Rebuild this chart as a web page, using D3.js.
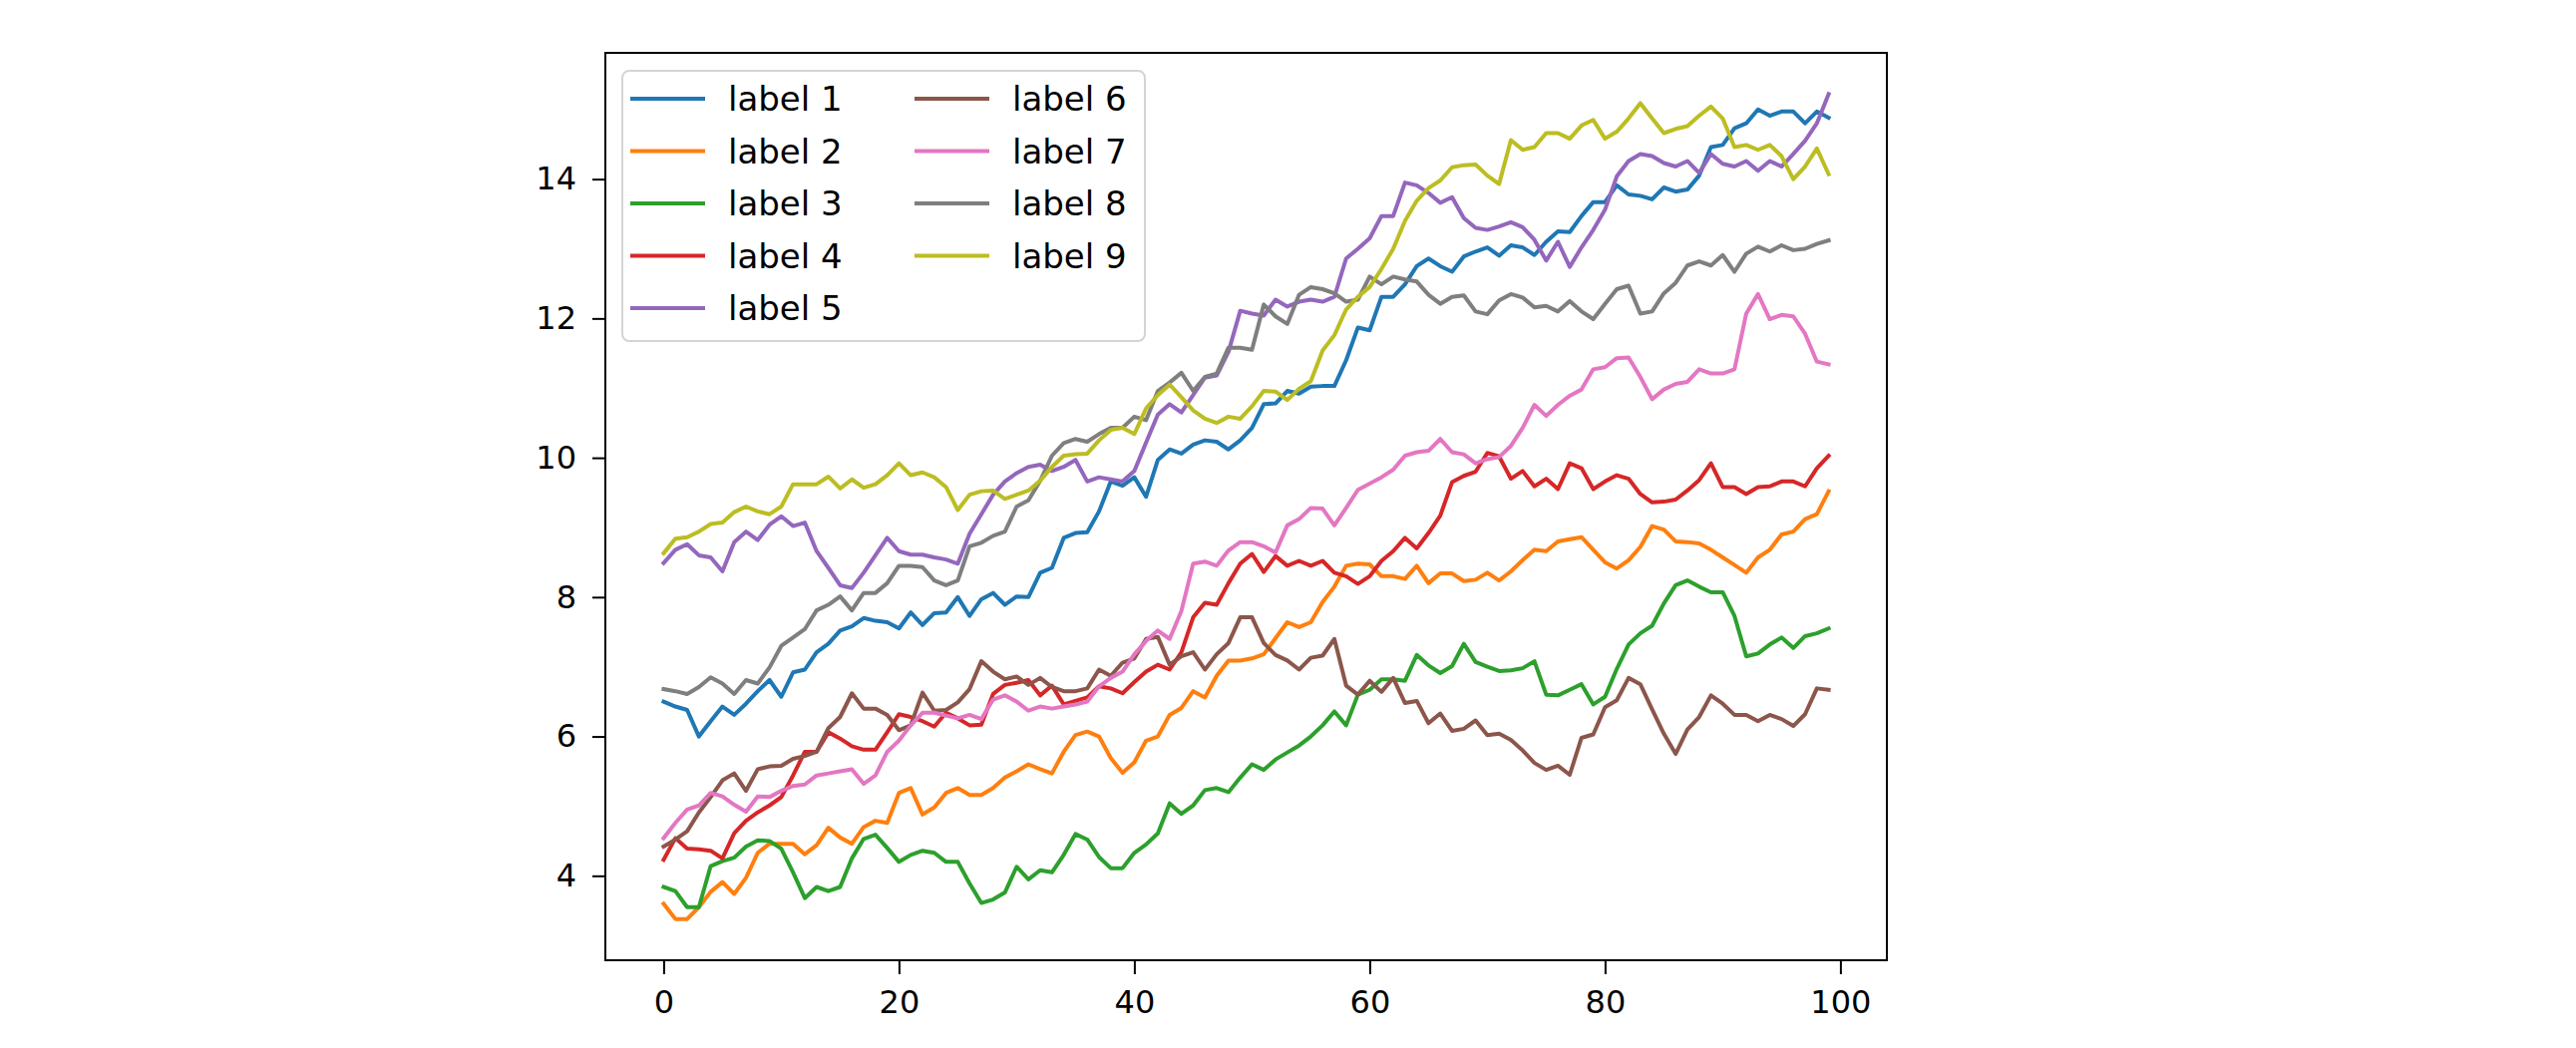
<!DOCTYPE html>
<html>
<head>
<meta charset="utf-8">
<script src="https://cdn.jsdelivr.net/npm/d3@7"></script>
<style>
  html, body { margin: 0; padding: 0; background: #fff; }
  svg { display: block; }
  text { font-family: "DejaVu Sans", sans-serif; fill: #000; }
</style>
</head>
<body>
<svg id="chart" width="2583" height="1051"></svg>
<script>
const labels = ["label 1","label 2","label 3","label 4","label 5","label 6","label 7","label 8","label 9"];
const colors = ["#1f77b4","#ff7f0e","#2ca02c","#d62728","#9467bd","#8c564b","#e377c2","#7f7f7f","#bcbd22"];
const xTicks = [0, 20, 40, 60, 80, 100];
const yTicks = [4, 6, 8, 10, 12, 14];

const s1 = [6.50,6.43,6.38,6.00,6.22,6.43,6.31,6.47,6.65,6.81,6.57,6.92,6.96,7.21,7.33,7.52,7.58,7.70,
  7.66,7.64,7.55,7.78,7.60,7.77,7.78,8.00,7.73,7.97,8.06,7.89,8.01,8.00,8.35,8.42,8.85,8.92,
  8.93,9.23,9.66,9.60,9.72,9.44,9.97,10.12,10.06,10.19,10.25,10.23,10.12,10.25,10.43,10.77,
  10.78,10.96,10.92,11.02,11.03,11.03,11.40,11.87,11.83,12.31,12.31,12.49,12.75,12.86,12.75,12.67,12.89,12.96,13.02,12.90,
  13.05,13.02,12.91,13.10,13.25,13.24,13.47,13.67,13.67,13.91,13.78,13.76,13.71,13.88,13.82,13.85,14.05,
  14.46,14.49,14.73,14.80,15.00,14.91,14.97,14.97,14.80,14.97,14.88];
const s2 = [3.60,3.38,3.38,3.55,3.77,3.91,3.74,3.97,4.33,4.46,4.46,4.46,4.31,4.44,4.69,4.55,4.46,4.70,
  4.79,4.76,5.19,5.26,4.88,4.98,5.19,5.26,5.16,5.16,5.26,5.41,5.50,5.60,5.53,5.47,5.78,6.02,
  6.07,6.00,5.69,5.48,5.63,5.94,6.00,6.31,6.41,6.65,6.56,6.87,7.09,7.09,7.12,7.18,
  7.41,7.64,7.57,7.64,7.93,8.15,8.45,8.48,8.47,8.30,8.30,8.26,8.45,8.20,8.34,8.34,8.23,8.25,8.35,8.24,
  8.37,8.53,8.68,8.66,8.80,8.83,8.86,8.68,8.50,8.41,8.53,8.72,9.02,8.97,8.80,8.79,8.77,
  8.68,8.57,8.46,8.35,8.57,8.68,8.90,8.94,9.12,9.19,9.52];
const s3 = [3.84,3.78,3.55,3.55,4.14,4.21,4.26,4.42,4.51,4.50,4.39,4.05,3.68,3.84,3.78,3.84,4.25,4.53,
  4.59,4.40,4.20,4.30,4.36,4.33,4.20,4.20,3.89,3.61,3.66,3.76,4.13,3.95,4.08,4.05,4.30,4.60,
  4.52,4.27,4.11,4.11,4.33,4.45,4.61,5.04,4.89,5.01,5.23,5.26,5.20,5.41,5.60,5.52,
  5.67,5.77,5.87,6.00,6.16,6.36,6.16,6.60,6.67,6.82,6.82,6.80,7.17,7.02,6.91,7.01,7.33,7.07,7.00,6.94,
  6.95,6.98,7.08,6.60,6.59,6.67,6.75,6.46,6.57,6.97,7.32,7.48,7.59,7.91,8.17,8.24,8.15,
  8.07,8.07,7.73,7.15,7.19,7.32,7.42,7.27,7.44,7.48,7.55];
const s4 = [4.23,4.54,4.39,4.38,4.36,4.25,4.61,4.79,4.91,5.01,5.13,5.44,5.78,5.78,6.06,5.97,5.86,5.81,
  5.81,6.06,6.32,6.28,6.22,6.14,6.34,6.26,6.16,6.17,6.61,6.74,6.77,6.81,6.59,6.73,6.46,6.51,
  6.56,6.72,6.69,6.62,6.78,6.93,7.03,6.96,7.21,7.71,7.92,7.89,8.20,8.48,8.62,8.36,
  8.59,8.45,8.52,8.45,8.52,8.35,8.30,8.19,8.30,8.52,8.66,8.85,8.70,8.92,9.17,9.65,9.74,9.80,10.07,10.02,
  9.70,9.81,9.59,9.70,9.55,9.92,9.85,9.55,9.66,9.75,9.70,9.48,9.36,9.37,9.40,9.53,9.68,
  9.92,9.58,9.58,9.48,9.58,9.59,9.66,9.66,9.59,9.85,10.03];
const s5 = [8.49,8.68,8.76,8.60,8.57,8.37,8.79,8.94,8.82,9.04,9.16,9.02,9.07,8.66,8.42,8.17,8.13,8.35,
  8.60,8.85,8.66,8.61,8.61,8.57,8.54,8.48,8.91,9.19,9.47,9.66,9.78,9.87,9.90,9.81,9.87,9.97,
  9.66,9.72,9.69,9.66,9.81,10.22,10.62,10.77,10.65,10.90,11.15,11.18,11.52,12.11,12.07,12.04,
  12.27,12.17,12.24,12.27,12.24,12.31,12.86,13.00,13.15,13.47,13.47,13.95,13.91,13.80,13.66,13.74,13.44,13.30,13.27,13.32,
  13.38,13.31,13.13,12.83,13.10,12.74,13.02,13.27,13.56,14.04,14.26,14.36,14.33,14.23,14.18,14.26,14.09,
  14.36,14.22,14.18,14.26,14.12,14.26,14.18,14.36,14.55,14.80,15.22];
const s6 = [4.42,4.52,4.64,4.91,5.13,5.37,5.47,5.22,5.53,5.57,5.58,5.68,5.72,5.78,6.12,6.28,6.62,6.40,
  6.40,6.31,6.09,6.16,6.63,6.37,6.38,6.49,6.68,7.08,6.93,6.82,6.86,6.74,6.84,6.71,6.65,6.65,
  6.69,6.96,6.87,7.06,7.12,7.40,7.43,7.03,7.15,7.21,6.96,7.18,7.34,7.71,7.71,7.34,
  7.17,7.09,6.96,7.13,7.16,7.40,6.73,6.60,6.80,6.64,6.84,6.48,6.51,6.19,6.33,6.08,6.11,6.23,6.02,6.04,
  5.95,5.80,5.62,5.52,5.58,5.45,5.98,6.03,6.42,6.52,6.84,6.75,6.39,6.04,5.75,6.10,6.28,
  6.59,6.47,6.31,6.31,6.22,6.31,6.25,6.15,6.32,6.69,6.67];
const s7 = [4.54,4.76,4.95,5.01,5.19,5.14,5.02,4.92,5.14,5.13,5.22,5.29,5.31,5.44,5.47,5.50,5.53,5.32,
  5.44,5.78,5.94,6.16,6.34,6.34,6.30,6.26,6.31,6.25,6.53,6.59,6.50,6.37,6.43,6.40,6.43,6.46,
  6.50,6.72,6.84,6.93,7.18,7.37,7.52,7.40,7.80,8.48,8.51,8.45,8.67,8.79,8.79,8.73,
  8.64,9.03,9.12,9.28,9.27,9.03,9.28,9.54,9.63,9.72,9.83,10.03,10.08,10.10,10.27,10.08,10.05,9.92,9.98,10.01,
  10.17,10.43,10.76,10.60,10.76,10.89,10.98,11.27,11.30,11.43,11.44,11.16,10.84,10.98,11.06,11.09,11.27,
  11.21,11.21,11.27,12.07,12.35,11.99,12.05,12.03,11.78,11.38,11.34];
const s8 = [6.68,6.65,6.61,6.71,6.85,6.76,6.61,6.81,6.76,6.99,7.30,7.42,7.54,7.81,7.89,8.01,7.81,8.06,
  8.06,8.20,8.45,8.45,8.43,8.24,8.17,8.24,8.73,8.78,8.88,8.94,9.30,9.39,9.67,10.03,10.21,10.27,
  10.23,10.34,10.43,10.43,10.59,10.54,10.96,11.08,11.22,10.96,11.16,11.21,11.58,11.58,11.55,12.20,
  12.03,11.92,12.34,12.45,12.42,12.36,12.24,12.27,12.60,12.49,12.60,12.56,12.53,12.34,12.21,12.31,12.33,12.10,12.06,12.26,
  12.35,12.30,12.16,12.18,12.10,12.25,12.10,11.99,12.21,12.42,12.47,12.07,12.10,12.36,12.51,12.76,12.82,
  12.76,12.91,12.67,12.93,13.03,12.96,13.05,12.98,13.00,13.07,13.12];
const s9 = [8.63,8.84,8.86,8.94,9.05,9.07,9.22,9.30,9.23,9.19,9.30,9.62,9.62,9.62,9.73,9.56,9.69,9.57,
  9.62,9.75,9.92,9.75,9.79,9.72,9.58,9.25,9.47,9.52,9.53,9.41,9.47,9.53,9.67,9.87,10.03,10.05,
  10.06,10.25,10.40,10.43,10.34,10.71,10.90,11.05,10.87,10.68,10.56,10.50,10.59,10.56,10.74,10.96,
  10.95,10.83,10.99,11.10,11.54,11.76,12.13,12.31,12.45,12.71,13.00,13.40,13.69,13.87,13.98,14.17,14.20,14.21,14.05,13.93,
  14.56,14.42,14.46,14.66,14.66,14.58,14.77,14.85,14.58,14.68,14.87,15.09,14.87,14.66,14.72,14.76,14.91,
  15.04,14.87,14.46,14.49,14.42,14.49,14.33,14.00,14.18,14.44,14.07];

const series = [s1, s2, s3, s4, s5, s6, s7, s8, s9];

const svg = d3.select("#chart");
svg.append("rect").attr("width", 2583).attr("height", 1051).attr("fill", "#fff");

const plot = { left: 607, top: 53, right: 1892, bottom: 963 };

const n = s1.length;
const xPad = (n - 1) * 0.05;
const x = d3.scaleLinear().domain([-xPad, n - 1 + xPad]).range([plot.left, plot.right]);
const all = series.flat();
const [ymin, ymax] = d3.extent(all);
const yPad = (ymax - ymin) * 0.05;
const y = d3.scaleLinear().domain([ymin - yPad, ymax + yPad]).range([plot.bottom, plot.top]);

const line = d3.line().x((d, i) => x(i)).y(d => y(d));

const g = svg.append("g");
series.forEach((s, k) => {
  g.append("path")
    .datum(s)
    .attr("d", line)
    .attr("fill", "none")
    .attr("stroke", colors[k])
    .attr("stroke-width", 4)
    .attr("stroke-linejoin", "round")
    .attr("stroke-linecap", "square");
});

// axes
const xAxis = svg.append("g")
  .attr("transform", `translate(0,${plot.bottom})`)
  .call(d3.axisBottom(x).tickValues(xTicks).tickSize(14).tickPadding(16).tickFormat(d3.format("d")));
const yAxis = svg.append("g")
  .attr("transform", `translate(${plot.left},0)`)
  .call(d3.axisLeft(y).tickValues(yTicks).tickSize(13).tickPadding(16).tickFormat(d3.format("d")));
[xAxis, yAxis].forEach(a => {
  a.select(".domain").remove();
  a.selectAll(".tick line").attr("stroke", "#000").attr("stroke-width", 2);
  a.selectAll(".tick text").attr("font-size", 32).attr("font-family", "DejaVu Sans").attr("fill", "#1a1a1a");
});

// spines
svg.append("rect")
  .attr("x", plot.left).attr("y", plot.top)
  .attr("width", plot.right - plot.left).attr("height", plot.bottom - plot.top)
  .attr("fill", "none").attr("stroke", "#000").attr("stroke-width", 2);

// legend
const leg = svg.append("g");
leg.append("rect")
  .attr("x", 624).attr("y", 71).attr("width", 524).attr("height", 271)
  .attr("rx", 7).attr("ry", 7)
  .attr("fill", "#fff").attr("fill-opacity", 0.8)
  .attr("stroke", "#d4d4d4").attr("stroke-width", 2);
const rowsPerCol = 5;
labels.forEach((lab, k) => {
  const col = Math.floor(k / rowsPerCol);
  const row = k % rowsPerCol;
  const x0 = 632 + col * 285;
  const yc = 99 + row * 52.5;
  leg.append("line")
    .attr("x1", x0).attr("x2", x0 + 75)
    .attr("y1", yc).attr("y2", yc)
    .attr("stroke", colors[k]).attr("stroke-width", 4);
  leg.append("text")
    .attr("x", x0 + 98).attr("y", yc)
    .attr("dy", "0.36em")
    .attr("font-size", 34)
    .attr("fill", "#1a1a1a")
    .text(lab);
});
</script>
</body>
</html>
